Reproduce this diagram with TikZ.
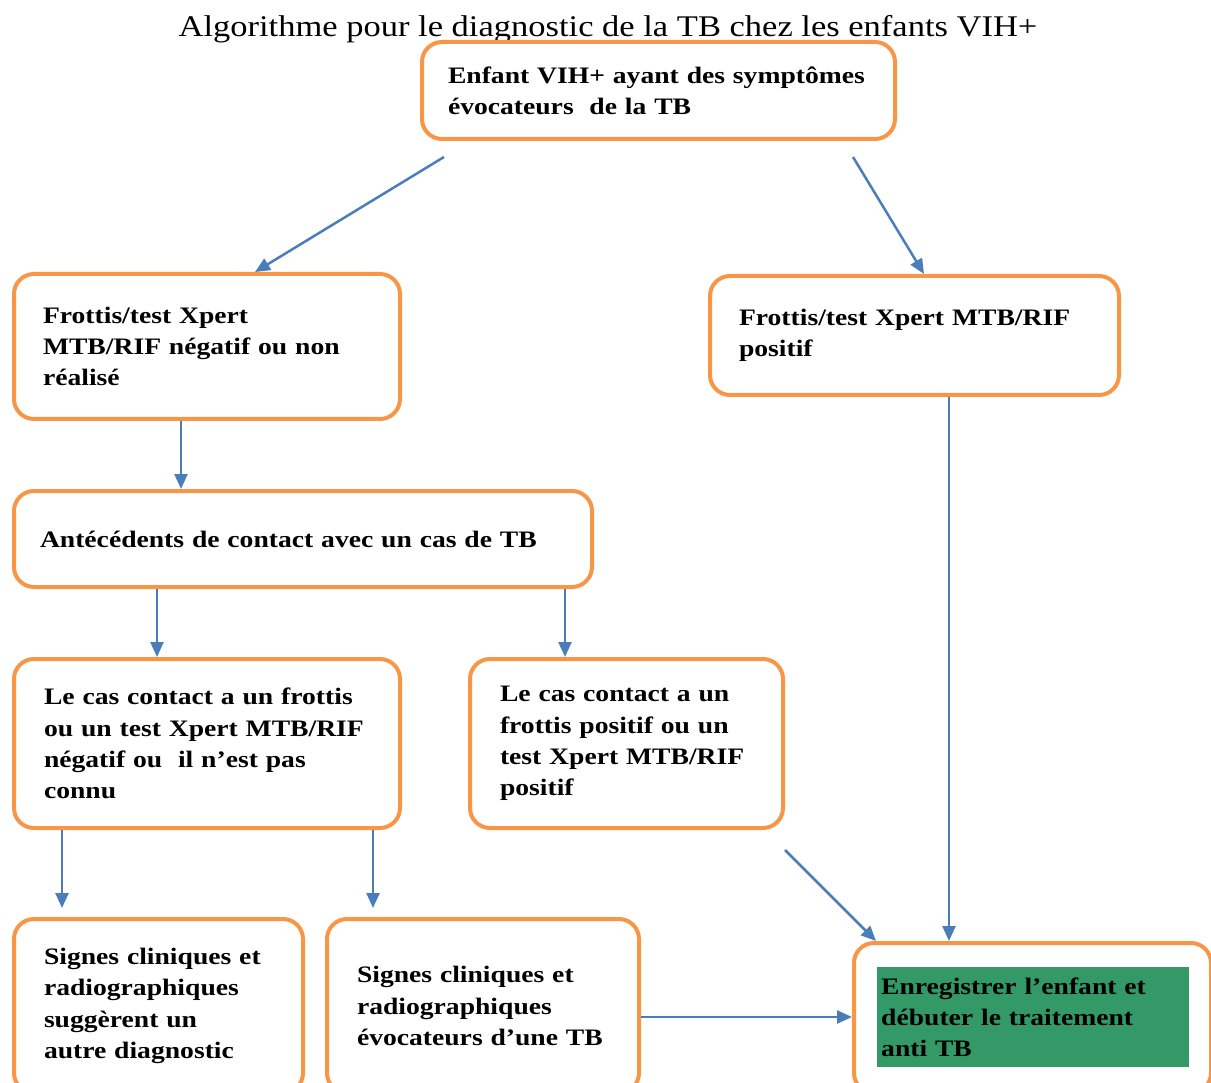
\documentclass[tikz,border=0pt]{standalone}
\usepackage{fontspec}
\setmainfont[FakeStretch=1.17]{Liberation Serif}
\newfontfamily\titlefont[FakeStretch=1.15]{Liberation Serif}
\usetikzlibrary{calc,arrows.meta,positioning}
\definecolor{boxorange}{HTML}{F79646}
\definecolor{linkblue}{HTML}{4A7EBB}
\definecolor{treatgreen}{HTML}{339966}
\tikzset{
  flowbox/.style={draw=boxorange, line width=4pt, rounded corners=20pt, anchor=north west,
    align=left, inner xsep=29pt, font=\fontsize{23.6}{31.3}\selectfont\bfseries},
  link/.style={draw=linkblue, line width=2.5pt, -{Triangle[length=15pt,width=13pt]}}
}

\begin{document}
\begin{tikzpicture}[x=1pt, y=-1pt]
  \clip (0,0) rectangle (1211,1083);
  \node[font=\titlefont\fontsize{30}{34}\selectfont] (title) at (608,29) {Algorithme pour le diagnostic de la TB chez les enfants VIH+};
  \node[flowbox, minimum width=473pt, minimum height=97pt, text width=421pt, inner xsep=26pt] (top) at (420,40) {Enfant VIH+ ayant des symptômes\\évocateurs~ de la TB};
  \node[flowbox, minimum width=386pt, minimum height=145pt, text width=328pt] (fL) at (12,272) {Frottis/test Xpert\\MTB/RIF négatif ou non\\réalisé};
  \node[flowbox, minimum width=409pt, minimum height=119pt, text width=351pt] (fR) at (708,274) {Frottis/test Xpert MTB/RIF\\positif};
  \node[flowbox, minimum width=578pt, minimum height=96pt, text width=526pt, inner xsep=26pt] (ante) at (12,489) {Antécédents de contact avec un cas de TB};
  \node[flowbox, minimum width=386pt, minimum height=169pt, text width=326pt, inner xsep=30pt] (casneg) at (12,657) {Le cas contact a un frottis\\ou un test Xpert MTB/RIF\\négatif ou~ il n’est pas\\connu};
  \node[flowbox, minimum width=313pt, minimum height=169pt, text width=253pt, inner xsep=30pt] (caspos) at (468,657) {Le cas contact a un\\frottis positif ou un\\test Xpert MTB/RIF\\positif};
  \node[flowbox, minimum width=289pt, minimum height=174pt, text width=229pt, inner xsep=30pt] (autre) at (12,917) {Signes cliniques et\\radiographiques\\suggèrent un\\autre diagnostic};
  \node[flowbox, minimum width=312pt, minimum height=174pt, text width=252pt, inner xsep=30pt] (evoc) at (325,917) {Signes cliniques et\\radiographiques\\évocateurs d’une TB};
  \node[flowbox, minimum width=357pt, minimum height=150pt] (trait) at (852,941) {};
  \node[anchor=north west, fill=treatgreen, minimum width=312pt, minimum height=100pt, text width=304pt, inner xsep=4pt,
    align=left, font=\fontsize{23.6}{31.3}\selectfont\bfseries] (traittxt) at (877,967) {Enregistrer l’enfant et\\débuter le traitement\\anti TB};
  \draw[link] ([xshift=24pt,yshift=-16pt]top.south west) -- ([xshift=243pt]fL.north west);
  \draw[link] ([xshift=433pt,yshift=-16pt]top.south west) -- ([xshift=216pt]fR.north west);
  \draw[link] ([xshift=169pt]fL.south west) -- ([xshift=169pt]ante.north west);
  \draw[link] ([xshift=241pt]fR.south west) -- ([xshift=97pt]trait.north west);
  \draw[link] ([xshift=145pt]ante.south west) -- ([xshift=145pt]casneg.north west);
  \draw[link] ([xshift=553pt]ante.south west) -- ([xshift=97pt]caspos.north west);
  \draw[link] ([xshift=50pt]casneg.south west) -- ([xshift=50pt,yshift=9pt]autre.north west);
  \draw[link] ([xshift=361pt]casneg.south west) -- ([xshift=48pt,yshift=9pt]evoc.north west);
  \draw[link] ([yshift=-11pt]evoc.east) -- ([yshift=-11pt]evoc.east -| trait.west);
  \draw[link] ([yshift=-20pt]caspos.south east) -- ([xshift=24pt]trait.north west);
\end{tikzpicture}
\end{document}
